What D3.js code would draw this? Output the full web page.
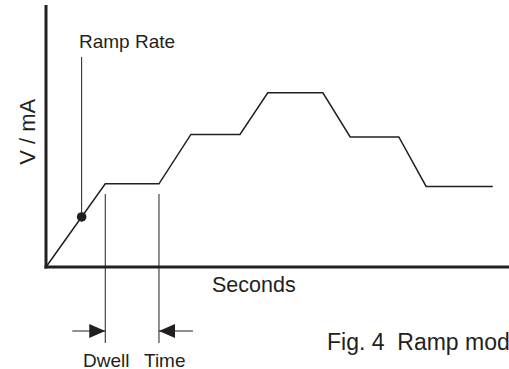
<!DOCTYPE html>
<html>
<head>
<meta charset="utf-8">
<script src="https://cdn.jsdelivr.net/npm/d3@7"></script>
<style>
html,body{margin:0;padding:0;background:#fff;overflow:hidden;}
svg{display:block;}
text{font-family:"Liberation Sans",Arial,sans-serif;fill:#231f20;}
</style>
</head>
<body>
<svg id="chart" width="509" height="369"></svg>
<script>
// Ramp profile (schematic): time in arbitrary seconds, level in arbitrary V/mA units
const times  = [0, 12.8, 24.4, 31.3, 41.9, 47.9, 59.8, 65.7, 76.2, 82.1, 96.5];
const levels = [0, 32,   32,   51,   51,   67,   67,   50,   50,   31,   31];
const rampMarkerTime = 7.7;          // point labelled "Ramp Rate"
const dwellStart = 12.8, dwellEnd = 24.4; // dwell segment
const axisLabels = {x: "Seconds", y: "V / mA"};
const annotations = {ramp: "Ramp Rate", dwell: ["Dwell", "Time"], caption: "Fig. 4  Ramp mode"};

const ink = "#231f20";
const svg = d3.select("#chart");
const x = d3.scaleLinear().domain([0, 100]).range([46, 509]);
const y = d3.scaleLinear().domain([0, 100]).range([267, 7]);

const pts = times.map((t, i) => [t, levels[i]]);

// axes
svg.append("line").attr("x1", x(0)).attr("x2", x(0)).attr("y1", y(100)-2).attr("y2", y(0)+1.5)
  .attr("stroke", ink).attr("stroke-width", 3);
svg.append("line").attr("x1", x(0)-1.5).attr("x2", x(100)).attr("y1", y(0)).attr("y2", y(0))
  .attr("stroke", ink).attr("stroke-width", 3);

// profile
const line = d3.line().x(d => x(d[0])).y(d => y(d[1]));
svg.append("path").datum(pts).attr("d", line).attr("fill", "none")
  .attr("stroke", ink).attr("stroke-width", 1.5).attr("stroke-linejoin", "miter");

// ramp-rate marker
const interp = d3.scaleLinear().domain([times[0], times[1]]).range([levels[0], levels[1]]);
const mv = interp(rampMarkerTime);
svg.append("line").attr("x1", x(rampMarkerTime)).attr("x2", x(rampMarkerTime))
  .attr("y1", y(mv)).attr("y2", 57).attr("stroke", ink).attr("stroke-width", 1);
svg.append("circle").attr("cx", x(rampMarkerTime)).attr("cy", y(mv)).attr("r", 4.8).attr("fill", ink);
svg.append("text").attr("x", 79).attr("y", 48).attr("font-size", 19).text(annotations.ramp);

// axis labels
svg.append("text").attr("transform", `translate(35,${y(52)}) rotate(-90)`)
  .attr("text-anchor", "middle").attr("font-size", 22).text(axisLabels.y);
svg.append("text").attr("x", 212).attr("y", 292).attr("font-size", 21.5).text(axisLabels.x);

// dwell markers
[dwellStart, dwellEnd].forEach(t => {
  svg.append("line").attr("x1", x(t)).attr("x2", x(t)).attr("y1", 194).attr("y2", 343)
    .attr("stroke", ink).attr("stroke-width", 1);
});
const ay = 331;
// left arrow pointing right
svg.append("line").attr("x1", x(dwellStart)-33).attr("x2", x(dwellStart)).attr("y1", ay).attr("y2", ay)
  .attr("stroke", ink).attr("stroke-width", 1);
svg.append("path").attr("d", `M${x(dwellStart)},${ay} L${x(dwellStart)-16},${ay-7} L${x(dwellStart)-16},${ay+7} Z`).attr("fill", ink);
// right arrow pointing left
svg.append("line").attr("x1", x(dwellEnd)).attr("x2", x(dwellEnd)+34).attr("y1", ay).attr("y2", ay)
  .attr("stroke", ink).attr("stroke-width", 1);
svg.append("path").attr("d", `M${x(dwellEnd)},${ay} L${x(dwellEnd)+16},${ay-7} L${x(dwellEnd)+16},${ay+7} Z`).attr("fill", ink);

svg.append("text").attr("x", 83).attr("y", 367).attr("font-size", 19).text(annotations.dwell[0]);
svg.append("text").attr("x", 144).attr("y", 367).attr("font-size", 19).text(annotations.dwell[1]);

svg.append("text").attr("x", 327).attr("y", 350).attr("font-size", 23).attr("xml:space", "preserve")
  .style("white-space", "pre").text(annotations.caption);
</script>
</body>
</html>
